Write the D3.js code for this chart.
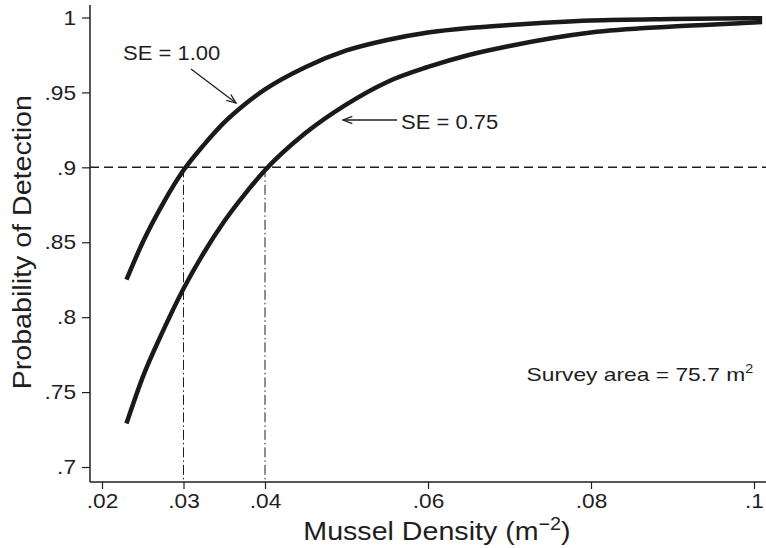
<!DOCTYPE html>
<html>
<head>
<meta charset="utf-8">
<script src="https://cdn.jsdelivr.net/npm/d3@7"></script>
<style>
  html, body { margin: 0; padding: 0; background: #fff; }
  svg { display: block; }
  text { font-family: "Liberation Sans", Arial, Helvetica, sans-serif; fill: #1e1e1e; }
</style>
</head>
<body>
<svg id="chart" width="766" height="548"></svg>
<script>
// ---- data ----
const density = [0.023, 0.025, 0.0275, 0.03, 0.0325, 0.035, 0.0375, 0.04, 0.045, 0.05, 0.055, 0.06, 0.065, 0.07, 0.08, 0.09, 0.1, 0.101];
const probSE100 = [0.825, 0.850, 0.876, 0.898, 0.915, 0.930, 0.942, 0.952, 0.967, 0.978, 0.985, 0.990, 0.993, 0.995, 0.998, 0.999, 0.9995, 0.9995];
const probSE075 = [0.729, 0.760, 0.791, 0.819, 0.843, 0.864, 0.882, 0.898, 0.923, 0.942, 0.957, 0.967, 0.975, 0.981, 0.990, 0.994, 0.9967, 0.997];
const xTicks = [0.02, 0.03, 0.04, 0.06, 0.08, 0.1];
const yTicks = [0.7, 0.75, 0.8, 0.85, 0.9, 0.95, 1];
const targetProb = 0.9;
const targetDensity = [0.03, 0.04];
const seriesLabels = ["SE = 1.00", "SE = 0.75"];
const surveyLabel = "Survey area = 75.7 m";

// ---- layout ----
const frame = { left: 90, right: 766, top: 5, bottom: 482 };
const x = d3.scaleLinear().domain([0.02, 0.1]).range([102, 754]);
const y = d3.scaleLinear().domain([0.7, 1]).range([467, 17.5]);
const ink = "#1e1e1e";

const svg = d3.select("#chart");

function stretch(sel, factor) {
  sel.each(function () {
    const len = this.getComputedTextLength();
    d3.select(this).attr("textLength", len * factor).attr("lengthAdjust", "spacingAndGlyphs");
  });
}
const fmt = v => (v === 1 ? "1" : d3.format(".2~f")(v).replace(/^0\./, "."));

// reference lines
svg.append("line")
  .attr("x1", frame.left).attr("x2", frame.right)
  .attr("y1", y(targetProb)).attr("y2", y(targetProb))
  .attr("stroke", ink).attr("stroke-width", 1.5).attr("stroke-dasharray", "9,5");

svg.selectAll("line.vref").data(targetDensity).enter().append("line")
  .attr("class", "vref")
  .attr("x1", d => x(d)).attr("x2", d => x(d))
  .attr("y1", y(targetProb)).attr("y2", frame.bottom)
  .attr("stroke", ink).attr("stroke-width", 1).attr("stroke-dasharray", "10,3,1.5,3");

// curves
const line = d3.line().x((d, i) => x(density[i])).y(d => y(d)).curve(d3.curveMonotoneX);
[probSE100, probSE075].forEach(s => {
  svg.append("path").attr("d", line(s))
    .attr("fill", "none").attr("stroke", "#1a1a1a").attr("stroke-width", 4.5);
});

// axes
const yAxis = svg.append("g").attr("transform", `translate(${frame.left},0)`)
  .call(d3.axisLeft(y).tickValues(yTicks).tickFormat(fmt).tickSize(8).tickSizeOuter(0).tickPadding(6));
const xAxis = svg.append("g").attr("transform", `translate(0,${frame.bottom})`)
  .call(d3.axisBottom(x).tickValues(xTicks).tickFormat(fmt).tickSize(7).tickSizeOuter(0).tickPadding(4));
[xAxis, yAxis].forEach(g => {
  g.select(".domain").remove();
  g.selectAll(".tick line").attr("stroke", ink).attr("stroke-width", 1.2);
  g.selectAll(".tick text").attr("font-size", 21).attr("fill", ink)
    .style("font-family", '"Liberation Sans", Arial, sans-serif');
});
stretch(yAxis.selectAll(".tick text"), 1.08);
stretch(xAxis.selectAll(".tick text"), 1.08);

svg.append("line").attr("x1", frame.left).attr("x2", frame.left)
  .attr("y1", frame.top).attr("y2", frame.bottom).attr("stroke", ink).attr("stroke-width", 1.5);
svg.append("line").attr("x1", frame.left).attr("x2", frame.right)
  .attr("y1", frame.bottom).attr("y2", frame.bottom).attr("stroke", ink).attr("stroke-width", 1.5);

// axis titles
const yt = svg.append("text")
  .attr("transform", `translate(31,${(y(0.7) + y(1)) / 2}) rotate(-90)`)
  .attr("text-anchor", "middle").attr("font-size", 26)
  .text("Probability of Detection");
stretch(yt, 1.1);

const xt = svg.append("text")
  .attr("x", 437).attr("y", 540).attr("text-anchor", "middle").attr("font-size", 26);
xt.append("tspan").text("Mussel Density (m");
xt.append("tspan").attr("dy", -10).attr("font-size", 18).text("\u22122");
xt.append("tspan").attr("dy", 10).text(")");
stretch(xt, 1.1);

// annotations (positions in data space)
const ann1 = { label: [0.02258, 0.9716], from: [0.03092, 0.9656], to: [0.03644, 0.9429] };
const ann2 = { label: [0.05669, 0.9255], from: [0.0562, 0.9316], to: [0.04957, 0.9316] };

function arrow(a) {
  const x1 = x(a.from[0]), y1 = y(a.from[1]), x2 = x(a.to[0]), y2 = y(a.to[1]);
  svg.append("line").attr("x1", x1).attr("y1", y1).attr("x2", x2).attr("y2", y2)
    .attr("stroke", ink).attr("stroke-width", 1.3);
  const ang = Math.atan2(y2 - y1, x2 - x1), L = 10, spread = 0.38;
  const p = [ang + Math.PI - spread, ang + Math.PI + spread]
    .map(t => [x2 + L * Math.cos(t), y2 + L * Math.sin(t)]);
  svg.append("path").attr("d", `M${p[0][0]},${p[0][1]}L${x2},${y2}L${p[1][0]},${p[1][1]}`)
    .attr("fill", "none").attr("stroke", ink).attr("stroke-width", 1.3);
}
arrow(ann1); arrow(ann2);

const l1 = svg.append("text").attr("x", x(ann1.label[0])).attr("y", y(ann1.label[1]))
  .attr("font-size", 20).text(seriesLabels[0]);
stretch(l1, 1.1);
const l2 = svg.append("text").attr("x", x(ann2.label[0])).attr("y", y(ann2.label[1]))
  .attr("font-size", 20).text(seriesLabels[1]);
stretch(l2, 1.1);

const st = svg.append("text").attr("x", x(0.0999)).attr("y", y(0.7573))
  .attr("text-anchor", "end").attr("font-size", 19);
st.append("tspan").text(surveyLabel);
st.append("tspan").attr("dy", -8).attr("font-size", 12).text("2");
stretch(st, 1.2);
</script>
</body>
</html>
